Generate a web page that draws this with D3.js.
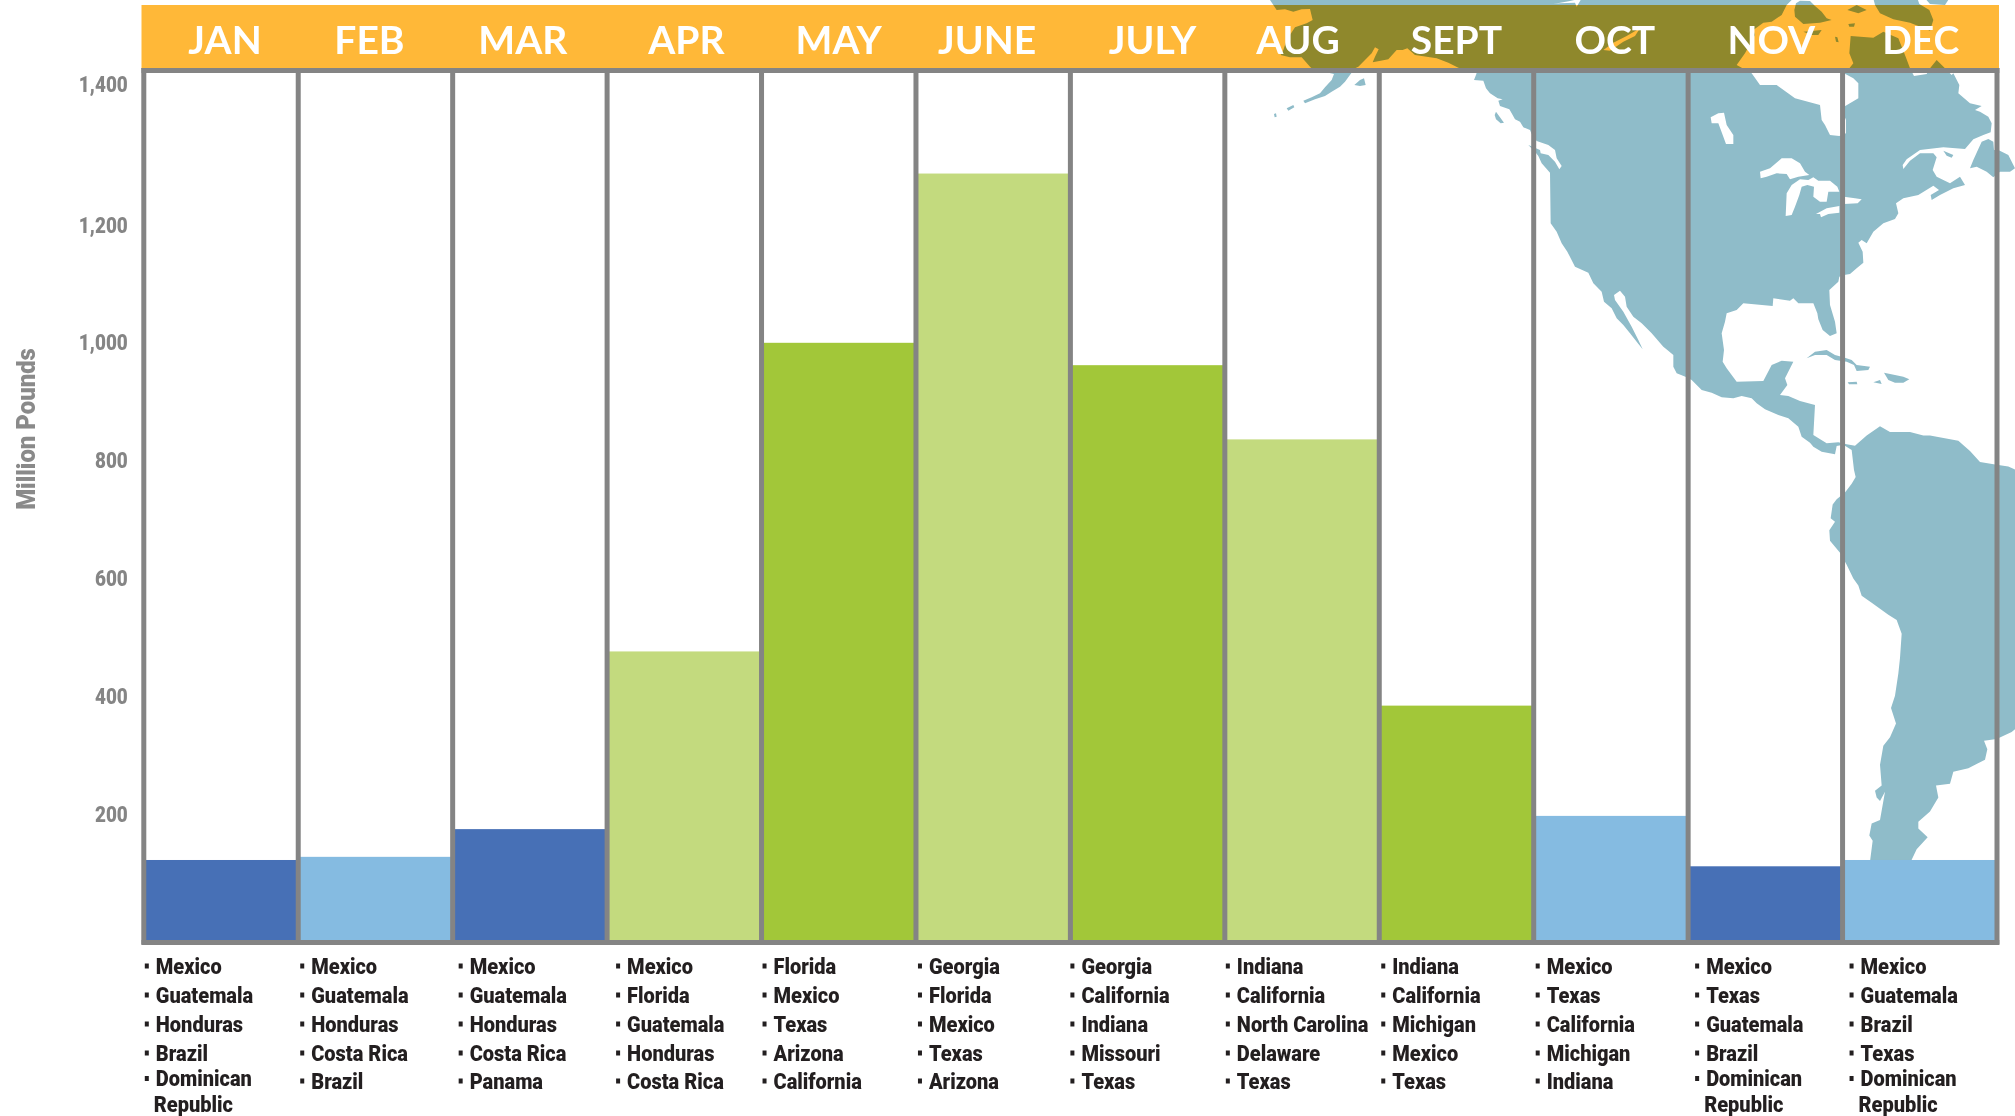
<!DOCTYPE html>
<html>
<head>
<meta charset="utf-8">
<script src="https://cdn.jsdelivr.net/npm/d3@7"></script>
<style>
  body { margin: 0; background: #fff; }
  svg { display: block; }
  text { font-family: Roboto, sans-serif; font-weight: 900; }
</style>
</head>
<body>
<div id="chart"></div>
<script>
// values
var months  = ["JAN","FEB","MAR","APR","MAY","JUNE","JULY","AUG","SEPT","OCT","NOV","DEC"];
var pounds  = [127, 132, 176, 476, 1000, 1273, 962, 836, 384, 197, 117, 127];
var tones   = ["blue","sky","blue","pale","green","pale","green","pale","green","sky","blue","sky"];
var yTicks  = [200, 400, 600, 800, 1000, 1200, 1400];
var origins = [
  ["Mexico","Guatemala","Honduras","Brazil","Dominican Republic"],
  ["Mexico","Guatemala","Honduras","Costa Rica","Brazil"],
  ["Mexico","Guatemala","Honduras","Costa Rica","Panama"],
  ["Mexico","Florida","Guatemala","Honduras","Costa Rica"],
  ["Florida","Mexico","Texas","Arizona","California"],
  ["Georgia","Florida","Mexico","Texas","Arizona"],
  ["Georgia","California","Indiana","Missouri","Texas"],
  ["Indiana","California","North Carolina","Delaware","Texas"],
  ["Indiana","California","Michigan","Mexico","Texas"],
  ["Mexico","Texas","California","Michigan","Indiana"],
  ["Mexico","Texas","Guatemala","Brazil","Dominican Republic"],
  ["Mexico","Guatemala","Brazil","Texas","Dominican Republic"]
];

var width = 2015, height = 1116;
var left = 143.8, right = 1997, top_ = 70.5, base = 942.5;

// the labels in the picture were placed by hand, so the y axis is not quite even
var y = d3.scaleLinear().domain([0, 200, 1200, 1400]).range([940, 814, 225, 84]);
var x = d3.scaleBand().domain(months).range([left, right]);
var tone = d3.scaleOrdinal()
  .domain(["blue","sky","green","pale"])
  .range(["#4770b6","#85bbe1","#a2c739","#c3da7e"]);

// small hand offsets of the header and list text
var headNudge = [4,-6,-7,2,0,-6,5,-4,0,4,6,1];
var listNudge = [1,2,6,9,1,2,0,1,2,2,7,7];

var mainland = [
  [1260,0,3,3,[[25,-15],[30,0],[40,15],[50,30],[75,28],[100,35],[125,28],[150,27],[158,60],[140,70],[105,82],[80,120],[70,150],[62,165],[90,172],[125,172],[150,200],[158,208],[222,222],[215,240],[195,262],[180,280],[155,292],[130,302],[135,310],[165,298],[195,288],[215,275],[240,260],[255,245],[272,222],[285,205],[295,200],[315,180],[335,160],[345,142],[356,148],[345,170],[338,187],[362,182],[385,178],[410,150],[428,150],[442,145],[465,165],[500,170],[530,175],[565,188],[595,203]]],
  [1460,70,3,3,[[50,10],[42,30],[70,32],[78,55],[90,70],[113,85],[128,88],[115,92],[120,108],[148,118],[155,130],[165,148],[180,155],[190,172],[210,180],[215,192],[230,213],[265,225],[285,240],[290,265],[305,288],[298,298],[285,275],[265,255],[242,250],[240,240],[205,225],[225,245],[235,258],[245,280],[270,308],[272,460],[290,485],[305,520],[322,545],[345,590],[385,608],[400,640],[425,665],[432,695],[455,715],[470,745],[490,765],[510,790],[530,815],[548,838],[535,810],[515,770],[490,725],[465,690],[462,675],[480,662],[495,680],[500,710],[520,740],[545,760],[575,790],[610,830],[622,840]]],
  [1530,340,3,3,[[430,45],[430,80],[440,100],[470,112],[485,120],[515,150],[545,158],[575,172],[610,175],[635,168],[665,175],[680,190],[705,208],[745,225],[775,235],[805,260],[815,290],[840,308]]],
  [1700,270,3,3,[[340,530],[365,545],[405,553],[410,528],[430,524],[455,540],[462,600]]],
  [1500,420,3,2.9,[[1067,165],[1055,185],[1035,210],[1010,230],[998,245],[992,285],[1005,295],[988,320],[990,350],[1020,385],[1040,420],[1060,460],[1075,480],[1085,510],[1115,530],[1165,565],[1190,580],[1205,620],[1200,690],[1195,735],[1185,800],[1173,835],[1188,880],[1170,920],[1150,945],[1140,1000],[1145,1060],[1125,1075],[1130,1095],[1140,1105],[1155,1078],[1140,1160],[1115,1170],[1108,1205],[1118,1220],[1110,1280],[1110,1340],[1235,1340],[1235,1275],[1250,1245],[1283,1210],[1255,1185],[1255,1165],[1290,1135],[1315,1095],[1308,1060],[1350,1055],[1360,1020],[1405,1010],[1455,985],[1462,955],[1452,930],[1490,925],[1535,905],[1560,885],[1560,150],[1525,135],[1490,130],[1440,122],[1410,90],[1375,60],[1290,45],[1270,45],[1230,35],[1170,35],[1140,18],[1100,45],[1065,75],[1040,70]]],
  [1700,270,3,3,[[415,517],[380,520],[340,495],[345,405],[300,393],[265,378],[240,375],[262,345],[255,325],[280,275],[245,272],[215,285],[190,333],[110,335],[80,295],[68,275],[72,240],[65,190],[75,155],[80,130],[110,120],[130,100],[218,108],[220,85],[270,92],[280,85],[295,100],[340,100],[352,130],[355,148],[368,180],[390,198],[410,190],[405,155],[390,105],[388,60],[415,35],[418,20]]],
  [1720,70,3,3,[[372,615],[390,612],[410,595],[430,578],[428,545],[415,518],[425,510],[440,520],[460,485],[490,460],[525,447],[535,430],[528,400],[550,385],[595,375],[640,347],[657,360],[632,375],[635,390],[660,375],[700,355],[735,345],[720,320],[690,340],[650,320],[638,300],[650,262],[640,250],[600,250],[570,272],[550,297],[548,285],[560,268],[600,240],[670,232],[735,237],[760,208],[790,195],[812,187],[815,160],[805,140],[780,125],[765,120],[785,108],[750,100],[715,70],[718,45],[700,10]]],
  [1640,0,3,3,[[935,225],[915,205],[890,180],[870,205],[860,222],[822,228],[810,205],[797,170],[775,115],[730,95],[700,113],[632,108],[628,160],[640,190],[628,205],[612,220],[640,235],[655,250],[655,295],[612,320]]],
  [1720,70,3,3,[[365,118],[378,150],[378,190],[358,198],[330,195],[315,165],[305,150],[300,105],[225,85],[170,45],[120,45],[95,10]]],
  [1640,0,3,3,[[290,195],[315,160],[345,105],[340,90],[370,68],[395,65],[425,45],[440,15],[470,-15]]]
];
// islands and lakes, the even-odd fill sorts out which is which
var patches = [
  [1460,70,3,3,[[108,125],[115,135],[132,158],[122,160],[108,148],[104,135]]],
  [1460,70,3,3,[[752,142],[775,130],[792,128],[800,165],[820,195],[820,222],[798,222],[790,200],[775,160],[755,160]]],
  [1260,0,3,3,[[283,255],[300,240],[312,235],[317,255],[300,258]]],
  [1260,0,3,3,[[80,325],[100,315],[103,322],[85,332]]],
  [1260,0,3,3,[[42,342],[48,340],[50,350],[44,352]]],
  [1260,0,3,3,[[1030,150],[1060,128],[1100,108],[1140,85],[1125,108],[1090,125],[1050,152]]],
  [1260,0,3,3,[[880,12],[930,3],[965,-5],[950,20],[945,8],[900,10]]],
  [1720,70,3,3,[[122,325],[120,305],[150,295],[185,265],[215,265],[240,280],[255,305],[268,315],[235,320],[210,328],[200,312],[170,310],[140,320]]],
  [1720,70,3,3,[[197,438],[200,370],[215,345],[240,328],[265,330],[280,322],[295,332],[330,332],[352,350],[358,365],[325,365],[320,395],[300,395],[280,380],[282,350],[262,345],[245,350],[238,375],[225,410],[215,435]]],
  [1720,70,3,3,[[288,432],[320,415],[358,408],[358,428],[325,432],[303,442],[300,432]]],
  [1720,70,3,3,[[372,380],[405,385],[425,388],[413,400],[372,402]]],
  [1720,70,3,3,[[670,242],[700,255],[695,263],[680,257]]],
  [1720,70,3,3,[[750,295],[760,270],[785,215],[805,207],[820,215],[822,240],[835,240],[865,255],[885,295],[870,305],[840,305],[820,322],[800,305],[770,290]]],
  [1700,270,3,3,[[320,265],[345,245],[380,240],[405,255],[430,262],[455,270],[470,285],[510,290],[505,300],[470,303],[462,285],[440,275],[405,270],[380,255],[345,255]]],
  [1700,270,3,3,[[443,337],[470,335],[472,343],[447,343]]],
  [1700,270,3,3,[[520,337],[540,330],[545,342]]],
  [1700,270,3,3,[[552,308],[585,315],[610,320],[628,328],[610,338],[585,338],[565,330]]],
  [1640,0,3,3,[[700,-5],[705,15],[720,40],[760,58],[810,68],[835,78],[870,92],[880,60],[868,30],[838,12],[832,-5]]],
  [1640,0,3,3,[[855,-5],[870,12],[915,15],[928,-5]]],
  [1640,0,3,3,[[468,10],[480,2],[510,3],[525,18],[545,35],[560,55],[575,60],[540,68],[490,72],[465,50],[463,30]]],
  [1640,0,3,3,[[622,30],[650,15],[680,30],[655,40]]],
  [1640,0,3,3,[[625,72],[645,70],[642,80],[628,80]]],
  [1640,0,3,3,[[490,95],[545,90],[535,105],[515,105]]],
  [1640,0,3,3,[[585,110],[592,112],[596,127],[588,125]]]
];

function toPage(seg) {
  return seg[4].map(function(p) { return [seg[0] + p[0] / seg[2], seg[1] + p[1] / seg[3]]; });
}
var line = d3.line();
var mapPath = line(d3.merge(mainland.map(toPage))) + "Z" +
  patches.map(function(s) { return line(toPage(s)) + "Z"; }).join("");

var svg = d3.select("#chart").append("svg")
  .attr("width", width)
  .attr("height", height);

svg.append("path")
  .attr("d", mapPath)
  .attr("fill", "#8fbcc9")
  .attr("fill-rule", "evenodd");

// header band multiplies over the map, that gives the olive land
svg.append("rect")
  .attr("x", 141.5)
  .attr("y", 5)
  .attr("width", 1857.5)
  .attr("height", 63.5)
  .attr("fill", "#ffb838")
  .style("mix-blend-mode", "multiply");

svg.selectAll(".head")
  .data(months)
  .enter().append("text")
  .attr("class", "head")
  .attr("x", function(d, i) { return x(d) + x.bandwidth() / 2 + headNudge[i]; })
  .attr("y", 54)
  .attr("text-anchor", "middle")
  .attr("fill", "#fff")
  .style("font-family", "Lato")
  .style("font-size", "39px")
  .style("font-weight", 700)
  .text(function(d) { return d; });

svg.selectAll(".bar")
  .data(pounds)
  .enter().append("rect")
  .attr("class", "bar")
  .attr("x", function(d, i) { return x(months[i]); })
  .attr("width", x.bandwidth())
  .attr("y", function(d) { return y(d); })
  .attr("height", function(d) { return y(0) - y(d); })
  .attr("fill", function(d, i) { return tone(tones[i]); });

// frame and month dividers
var frame = svg.append("g").attr("stroke", "#848484").attr("stroke-width", 5);
frame.selectAll("line")
  .data(months.map(function(m) { return x(m); }).concat([right]))
  .enter().append("line")
  .attr("x1", function(d) { return d; })
  .attr("x2", function(d) { return d; })
  .attr("y1", 68)
  .attr("y2", base + 2);
frame.append("line").attr("x1", 141.5).attr("x2", 1999.3).attr("y1", top_).attr("y2", top_);
frame.append("line").attr("x1", 141.5).attr("x2", 1999.3).attr("y1", base).attr("y2", base);

var yAxis = svg.append("g")
  .attr("transform", "translate(" + left + ",0)")
  .call(d3.axisLeft(y).tickValues(yTicks).tickSize(0).tickFormat(d3.format(",")));
yAxis.select(".domain").remove();
yAxis.selectAll("text")
  .attr("x", 0)
  .attr("transform", "translate(-16,0) scale(0.86,1)")
  .attr("fill", "#858585")
  .style("font-family", "Roboto")
  .style("font-size", "22px")
  .style("font-weight", 900);

svg.append("text")
  .attr("transform", "translate(35,429) rotate(-90) scale(0.92,1)")
  .attr("text-anchor", "middle")
  .attr("fill", "#8a8a8a")
  .style("font-size", "26px")
  .text("Million Pounds");

// origin lists below the bars
var rowY = [973.5, 1002.5, 1031.5, 1060.5, 1088.5];
var columns = svg.selectAll(".origins")
  .data(origins)
  .enter().append("g")
  .attr("class", "origins")
  .attr("transform", function(d, i) {
    return "translate(" + (x(months[i]) + listNudge[i]) + ",0)";
  });

columns.each(function(list) {
  var col = d3.select(this);
  list.forEach(function(name, r) {
    var wraps = name === "Dominican Republic";
    var rowBase = wraps ? rowY[r] - 2.5 : rowY[r];
    col.append("rect")
      .attr("x", 0)
      .attr("y", rowBase - 10)
      .attr("width", 4)
      .attr("height", 5)
      .attr("fill", "#231f20");
    (wraps ? ["Dominican", "Republic"] : [name]).forEach(function(part, k) {
      col.append("text")
        .attr("transform", "translate(" + (k ? 9 : 11) + "," + (k ? 1111.5 : rowBase) + ") scale(0.91,1)")
        .attr("fill", "#231f20")
        .style("font-size", "22px")
        .text(part);
    });
  });
});
</script>
</body>
</html>
